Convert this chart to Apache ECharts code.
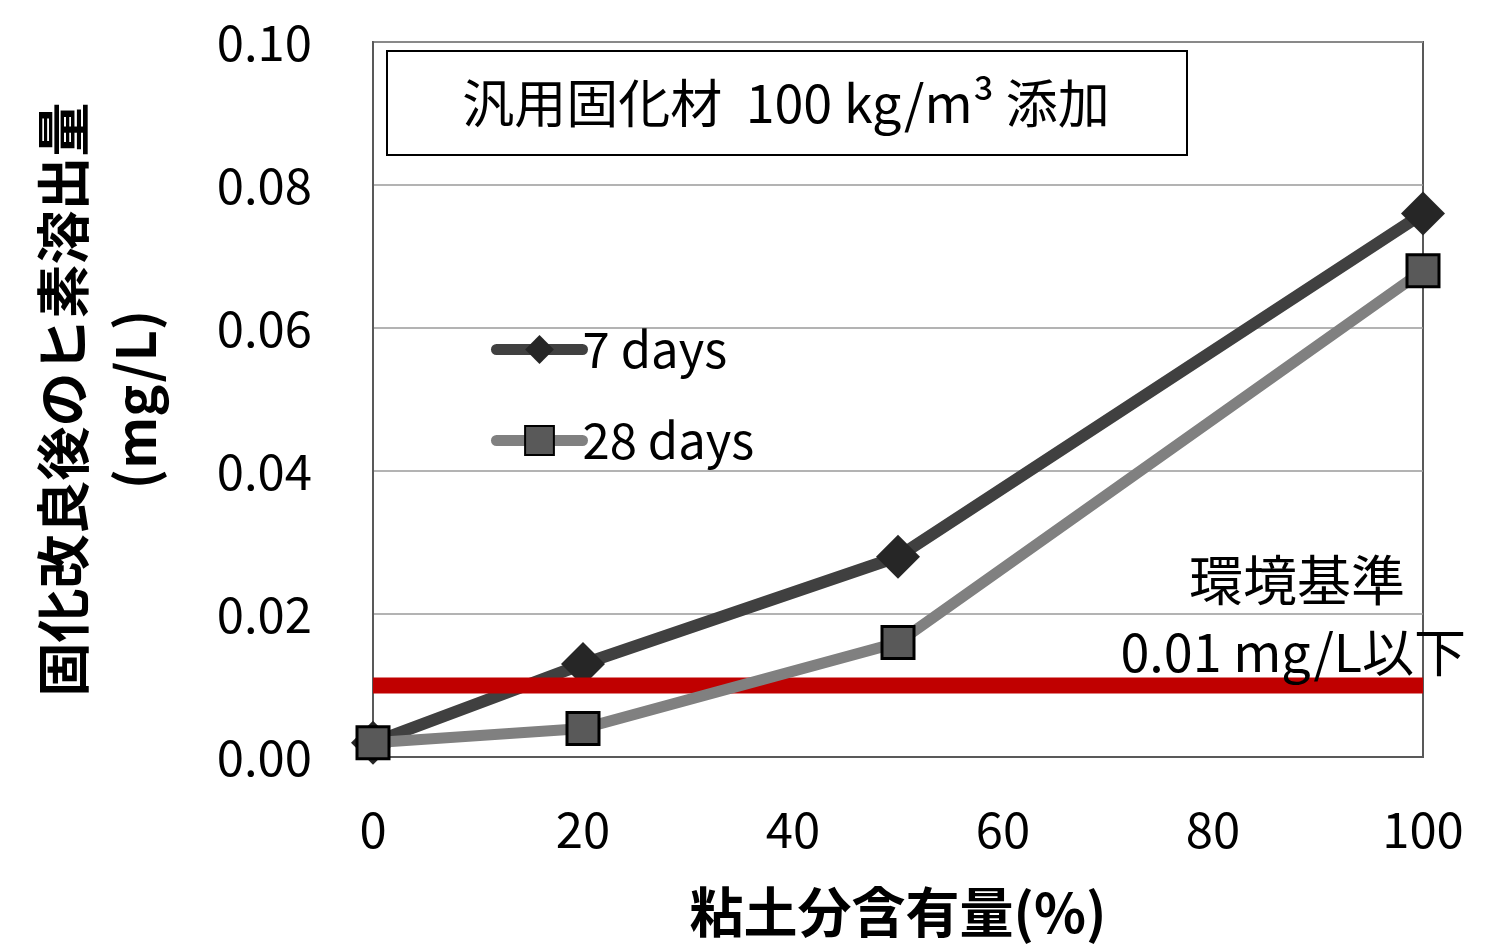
<!DOCTYPE html>
<html><head><meta charset="utf-8">
<script src="https://cdn.jsdelivr.net/npm/echarts@6/dist/echarts.min.js"></script>
<style>html,body{margin:0;padding:0;background:#fff}#c{width:1492px;height:948px}</style>
</head><body><div id="c"></div>
<script>
const clayContent = [0, 20, 50, 100];
const days7 = [0.002, 0.013, 0.028, 0.076];
const days28 = [0.002, 0.004, 0.016, 0.068];
const seriesNames = ['7 days', '28 days'];
const standardValue = 0.01;
const xRange = [0, 100];
const yRange = [0, 0.10];
const titleText = '汎用固化材  100 kg/m³ 添加';
const yTitle = '固化改良後のヒ素溶出量\n(mg/L)';
const xTitle = '粘土分含有量(%)';
const stdLabel1 = '環境基準';
const stdLabel2 = '0.01 mg/L以下';

const FONT = '"Noto Sans CJK JP", "Noto Sans", sans-serif';
const chart = echarts.init(document.getElementById('c'));
const pairs = (xs, ys) => xs.map((x, i) => [x, ys[i]]);

chart.setOption({
  animation: false,
  backgroundColor: '#fff',
  grid: { left: 373, right: 69, top: 42, bottom: 191, show: true, borderColor: '#595959', borderWidth: 2, backgroundColor: 'transparent' },
  xAxis: {
    type: 'value', min: xRange[0], max: xRange[1], interval: 20,
    axisLine: { show: true, lineStyle: { color: '#595959', width: 2 } },
    axisTick: { show: false },
    splitLine: { show: false },
    axisLabel: { color: '#000', fontSize: 49, fontFamily: FONT, margin: 48 },
    name: xTitle, nameLocation: 'middle', nameGap: 128,
    nameTextStyle: { color: '#000', fontSize: 54, fontWeight: 'bold', fontFamily: FONT }
  },
  yAxis: {
    type: 'value', min: yRange[0], max: yRange[1], interval: 0.02,
    axisLine: { show: true, lineStyle: { color: '#595959', width: 2 } },
    axisTick: { show: false },
    splitLine: { show: true, lineStyle: { color: '#9a9a9a', width: 1.5 } },
    axisLabel: { color: '#000', fontSize: 49, fontFamily: FONT, margin: 61, formatter: v => v.toFixed(2) },
    name: yTitle, nameLocation: 'middle', nameGap: 202, nameRotate: 90,
    nameTextStyle: { color: '#000', fontSize: 54, fontWeight: 'bold', fontFamily: FONT, lineHeight: 72 }
  },
  legend: {
    data: seriesNames, orient: 'vertical', left: 486, top: 320, itemGap: 42,
    itemWidth: 86, itemHeight: 36,
    lineStyle: { width: 11, cap: 'round' },
    textStyle: { color: '#000', fontSize: 49, fontFamily: FONT, padding: [0, 0, 0, -5] }
  },
  graphic: [
    { type: 'rect', left: 386, top: 50, shape: { width: 800, height: 104 },
      style: { fill: '#fff', stroke: '#000', lineWidth: 2 }, z: 100 },
    { type: 'text', x: 786, y: 103, z: 101,
      style: { text: titleText, font: '52px ' + FONT, fill: '#000', align: 'center', verticalAlign: 'middle' } },
    { type: 'text', x: 1405, y: 580, z: 101,
      style: { text: stdLabel1, font: '54px ' + FONT, fill: '#000', align: 'right', verticalAlign: 'middle' } },
    { type: 'text', x: 1466, y: 652, z: 101,
      style: { text: stdLabel2, font: '52px ' + FONT, fill: '#000', align: 'right', verticalAlign: 'middle' } }
  ],
  series: [
    {
      name: 'standard', type: 'line', data: [[xRange[0], standardValue], [xRange[1], standardValue]],
      symbol: 'none', lineStyle: { color: '#C00000', width: 16 }, z: 3, silent: true
    },
    {
      name: seriesNames[0], type: 'line', data: pairs(clayContent, days7),
      symbol: 'diamond', symbolSize: 44,
      lineStyle: { color: '#404040', width: 12 },
      itemStyle: { color: '#262626', borderColor: '#262626', borderWidth: 0 }, z: 2
    },
    {
      name: seriesNames[1], type: 'line', data: pairs(clayContent, days28),
      symbol: 'rect', symbolSize: 32,
      lineStyle: { color: '#808080', width: 11 },
      itemStyle: { color: '#595959', borderColor: '#000', borderWidth: 3 }, z: 4
    }
  ]
});
</script></body></html>
